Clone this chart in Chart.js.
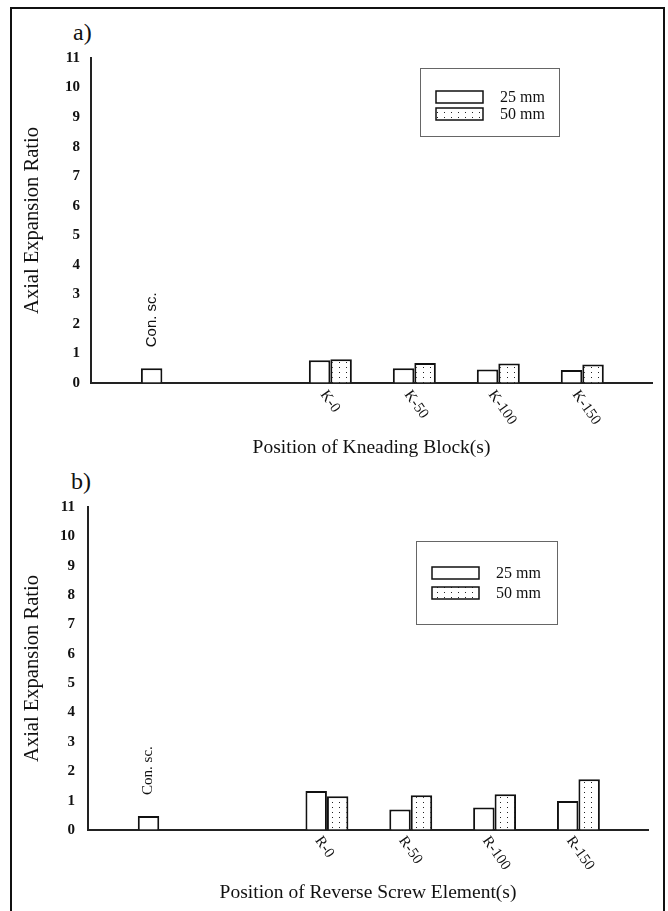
<!DOCTYPE html>
<html>
<head>
<meta charset="utf-8">
<script src="https://cdn.jsdelivr.net/npm/chart.js@4.4.0/dist/chart.umd.min.js"></script>
<style>
  body { margin: 0; background: #fff; width: 668px; height: 911px; overflow: hidden; position: relative; font-family: 'Liberation Serif', serif; }
  #frame { position: absolute; left: 10px; top: 7px; width: 651px; height: 930px; border: 2px solid #111; }
  .panel { position: absolute; left: 0; }
  .tag { position: absolute; font-size: 24px; color: #111; line-height: 1; }
</style>
</head>
<body>
<div id="frame"></div>
<div class="tag" style="left:73px; top:20px;">a)</div>
<div class="tag" style="left:71px; top:469px;">b)</div>
<canvas id="chartA" class="panel" style="top:0px;" width="668" height="460"></canvas>
<canvas id="chartB" class="panel" style="top:455px;" width="668" height="456"></canvas>
<script>
'use strict';

const categoriesA = ['Con. sc.', '', 'K-0', 'K-50', 'K-100', 'K-150'];
const categoriesB = ['Con. sc.', '', 'R-0', 'R-50', 'R-100', 'R-150'];
const seriesLabels = ['25 mm', '50 mm'];

const valuesA25 = [0.50, null, 0.77, 0.50, 0.46, 0.44];
const valuesA50 = [null, null, 0.80, 0.68, 0.66, 0.63];
const valuesB25 = [0.48, null, 1.33, 0.70, 0.77, 0.99];
const valuesB50 = [null, null, 1.15, 1.18, 1.22, 1.73];

const yTickValues = [0, 1, 2, 3, 4, 5, 6, 7, 8, 9, 10, 11];
const yTitle = 'Axial Expansion Ratio';
const xTitleA = 'Position of Kneading Block(s)';
const xTitleB = 'Position of Reverse Screw Element(s)';

// dotted fill for the 50 mm bars
function makeDots() {
  const c = document.createElement('canvas');
  c.width = 7;
  c.height = 5;
  const g = c.getContext('2d');
  g.fillStyle = '#fff';
  g.fillRect(0, 0, 7, 5);
  g.fillStyle = '#222';
  g.fillRect(3, 2, 1, 1);
  return g.createPattern(c, 'repeat');
}
const dots = makeDots();

function toPoints(values) {
  return values
    .map((v, i) => ({ x: i, y: v }))
    .filter(p => p.y !== null);
}

const extrasPlugin = {
  id: 'extras',
  afterDraw(chart, args, opts) {
    const { ctx } = chart;
    const x = chart.scales.x;
    const y = chart.scales.y;
    const cats = opts.categories;

    ctx.save();
    ctx.fillStyle = '#111';

    // slanted labels under the axis
    ctx.font = '15px "Liberation Serif"';
    ctx.textAlign = 'left';
    ctx.textBaseline = 'middle';
    cats.forEach((c, i) => {
      if (!c || i === 0) return;
      ctx.save();
      ctx.translate(x.getPixelForValue(i) - opts.labelDx, y.bottom + opts.labelDy);
      ctx.rotate(55 * Math.PI / 180);
      ctx.fillText(c, 0, 0);
      ctx.restore();
    });

    // first category is written above its bar
    const bar = chart.getDatasetMeta(0).data[0];
    ctx.save();
    ctx.translate(bar.x, bar.y - 21);
    ctx.rotate(-Math.PI / 2);
    ctx.font = opts.barLabelFont;
    ctx.fillText(cats[0], 0, 0);
    ctx.restore();

    // legend box
    const L = opts.legend;
    ctx.strokeStyle = '#666';
    ctx.lineWidth = 1;
    ctx.strokeRect(L.left + 0.5, L.top + 0.5, L.width, L.height);
    chart.data.datasets.forEach((ds, i) => {
      const cy = L.rows[i];
      ctx.fillStyle = ds.backgroundColor;
      ctx.fillRect(L.swatchX, cy - 6, 47, 12);
      ctx.strokeStyle = '#111';
      ctx.lineWidth = 1.5;
      ctx.strokeRect(L.swatchX, cy - 6, 47, 12);
      ctx.fillStyle = '#111';
      ctx.font = '16px "Liberation Serif"';
      ctx.textBaseline = 'middle';
      ctx.fillText(ds.label, L.textX, cy + 1);
    });
    ctx.restore();
  }
};

function makeChart(canvasId, cats, v25, v50, xTitle, lay) {
  const canvasElem = document.getElementById(canvasId);
  const data = {
    datasets: [
      {
        label: seriesLabels[0],
        data: toPoints(v25),
        backgroundColor: '#fff',
        borderColor: '#111',
        borderWidth: 2,
      },
      {
        label: seriesLabels[1],
        data: toPoints(v50),
        backgroundColor: dots,
        borderColor: '#111',
        borderWidth: 2,
      },
    ],
  };

  const config = {
    type: 'bar',
    data: data,
    plugins: [extrasPlugin],
    options: {
      responsive: false,
      animation: false,
      categoryPercentage: 0.512,
      barPercentage: 1,
      layout: { padding: { top: lay.top, right: lay.right, left: 0, bottom: 0 } },
      plugins: {
        legend: { display: false },
        tooltip: { enabled: false },
        extras: {
          categories: cats,
          labelDx: lay.labelDx,
          labelDy: lay.labelDy,
          barLabelFont: lay.barLabelFont,
          legend: lay.legend,
        },
      },
      scales: {
        x: {
          type: 'linear',
          offset: false,
          min: -0.85,
          max: cats.length - 1 + 0.83,
          afterBuildTicks: scale => {
            scale.ticks = cats.map((c, i) => ({ value: i })).filter(t => cats[t.value] !== '');
          },
          afterFit: scale => { scale.height = lay.xHeight; },
          ticks: { display: false },
          grid: { display: true, drawOnChartArea: false, drawTicks: false, offset: false },
          border: { display: true, color: '#222', width: 2 },
          title: {
            display: true,
            text: xTitle,
            color: '#111',
            font: { family: 'Liberation Serif', size: 19.5 },
            padding: { top: 0, bottom: lay.xTitlePad },
          },
        },
        y: {
          min: 0,
          max: 11,
          afterBuildTicks: scale => {
            scale.ticks = yTickValues.map(v => ({ value: v }));
          },
          afterFit: scale => { scale.width = lay.yWidth; },
          ticks: {
            padding: lay.yTickPad,
            color: '#111',
            font: { family: 'Liberation Serif', size: 15, weight: 'bold' },
          },
          grid: { display: true, drawOnChartArea: false, drawTicks: false },
          border: { display: true, color: '#222', width: 2 },
          title: {
            display: true,
            text: yTitle,
            color: '#111',
            font: { family: 'Liberation Serif', size: 20.5 },
            padding: { top: 20, bottom: 0 },
          },
        },
      },
    },
  };

  new Chart(canvasElem, config);
}

makeChart('chartA', categoriesA, valuesA25, valuesA50, xTitleA, {
  top: 58, right: 16, yWidth: 91, xHeight: 77, xTitlePad: 0, yTickPad: 11,
  labelDx: 7, labelDy: 9,
  barLabelFont: '15px "Liberation Sans"',
  legend: { left: 420, top: 68, width: 139, height: 68, swatchX: 436, rows: [97, 114], textX: 500 },
});

makeChart('chartB', categoriesB, valuesB25, valuesB50, xTitleB, {
  top: 52, right: 20, yWidth: 88, xHeight: 81, xTitlePad: 6, yTickPad: 13,
  labelDx: 9, labelDy: 8,
  barLabelFont: '15px "Liberation Serif"',
  legend: { left: 416, top: 86, width: 141, height: 83, swatchX: 432, rows: [118, 138], textX: 496 },
});
</script>
</body>
</html>
